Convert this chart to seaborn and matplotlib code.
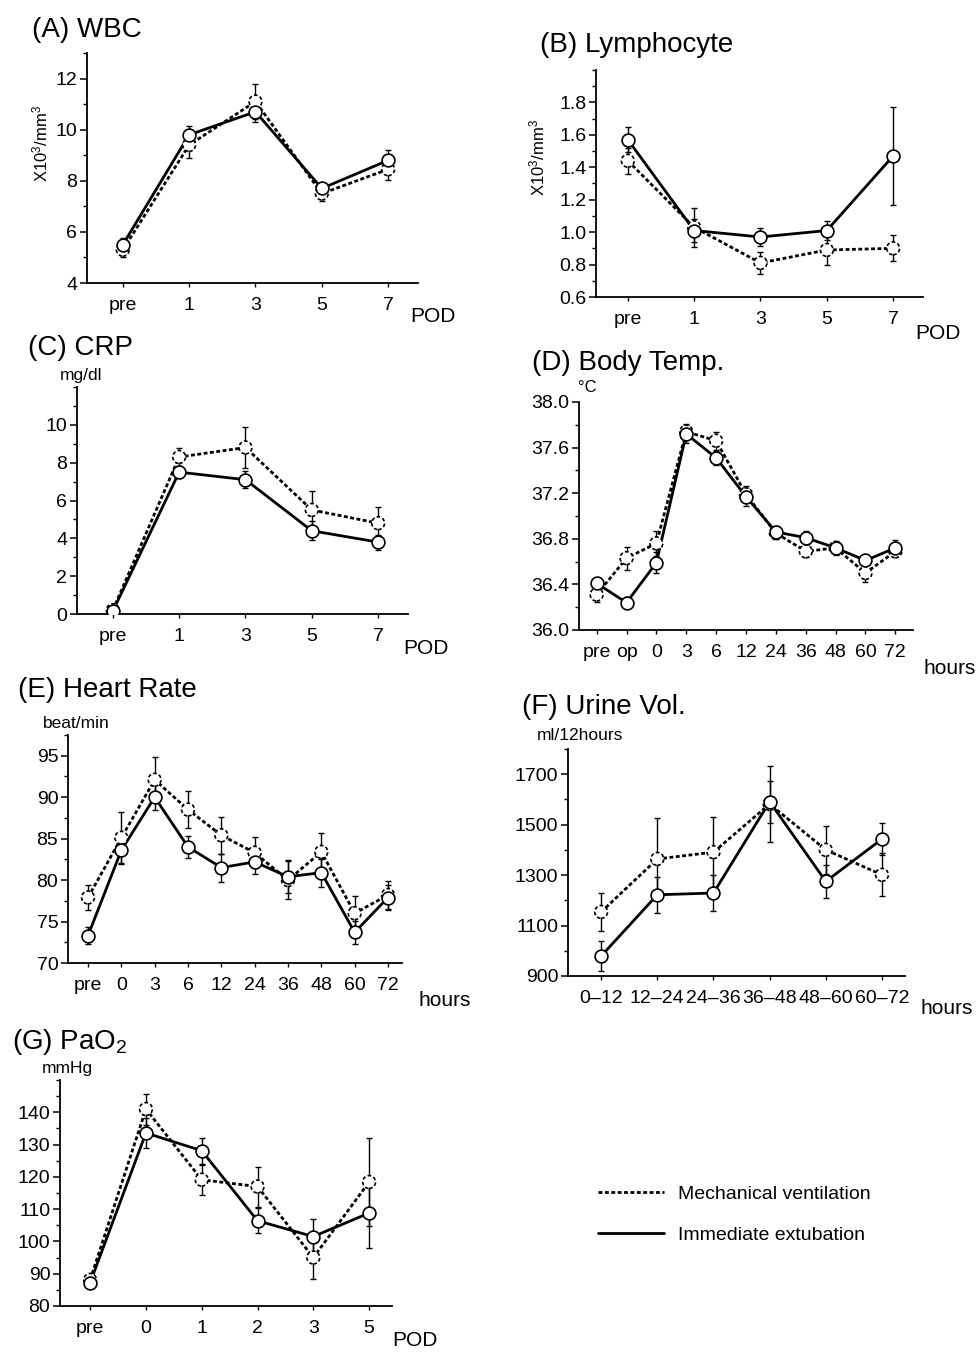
import numpy as np
import pandas as pd
import matplotlib
matplotlib.use("Agg")
from matplotlib import pyplot as plt
from matplotlib.lines import Line2D
from matplotlib.ticker import MultipleLocator, FormatStrFormatter
import seaborn as sns

# ---- data (MV = mechanical ventilation, IE = immediate extubation) ----
wbc_x = ["pre", "1", "3", "5", "7"]
wbc_mv = [5.3, 9.4, 11.1, 7.5, 8.45]
wbc_mv_err = [0.3, 0.5, 0.7, 0.3, 0.4]
wbc_ie = [5.5, 9.8, 10.7, 7.7, 8.8]
wbc_ie_err = [0.25, 0.35, 0.4, 0.15, 0.4]
wbc_ticks = [4, 6, 8, 10, 12]

lym_x = ["pre", "1", "3", "5", "7"]
lym_mv = [1.44, 1.03, 0.81, 0.89, 0.90]
lym_mv_err = [0.08, 0.12, 0.07, 0.09, 0.08]
lym_ie = [1.57, 1.01, 0.97, 1.01, 1.47]
lym_ie_err = [0.076, 0.07, 0.055, 0.06, 0.3]
lym_ticks = [0.6, 0.8, 1.0, 1.2, 1.4, 1.6, 1.8]

crp_x = ["pre", "1", "3", "5", "7"]
crp_mv = [0.2, 8.3, 8.8, 5.5, 4.8]
crp_mv_err = [0.1, 0.5, 1.1, 1.0, 0.85]
crp_ie = [0.15, 7.5, 7.1, 4.4, 3.8]
crp_ie_err = [0.1, 0.3, 0.45, 0.5, 0.4]
crp_ticks = [0, 2, 4, 6, 8, 10]

temp_x = ["pre", "op", "0", "3", "6", "12", "24", "36", "48", "60", "72"]
temp_mv = [36.31, 36.63, 36.76, 37.74, 37.66, 37.19, 36.85, 36.69, 36.72, 36.50, 36.69]
temp_mv_err = [0.06, 0.1, 0.11, 0.07, 0.08, 0.07, 0.05, 0.05, 0.06, 0.08, 0.05]
temp_ie = [36.41, 36.24, 36.59, 37.72, 37.51, 37.17, 36.86, 36.81, 36.72, 36.61, 36.72]
temp_ie_err = [0.05, 0.05, 0.09, 0.08, 0.06, 0.08, 0.05, 0.06, 0.05, 0.05, 0.07]
temp_ticks = [36.0, 36.4, 36.8, 37.2, 37.6, 38.0]

hr_x = ["pre", "0", "3", "6", "12", "24", "36", "48", "60", "72"]
hr_mv = [77.9, 85.1, 92.1, 88.5, 85.4, 83.3, 80.0, 83.4, 76.0, 78.2]
hr_mv_err = [1.5, 3.1, 2.7, 2.2, 2.2, 1.9, 2.3, 2.3, 2.1, 1.7]
hr_ie = [73.3, 83.6, 90.0, 84.0, 81.5, 82.2, 80.4, 80.9, 73.7, 77.9]
hr_ie_err = [1.0, 1.5, 1.5, 1.3, 1.7, 1.5, 2.0, 1.7, 1.4, 1.5]
hr_ticks = [70, 75, 80, 85, 90, 95]

urine_x = ["0–12", "12–24", "24–36", "36–48", "48–60", "60–72"]
urine_mv = [1154, 1364, 1391, 1582, 1400, 1301]
urine_mv_err = [76, 161, 138, 150, 96, 85]
urine_ie = [979, 1222, 1229, 1591, 1275, 1443]
urine_ie_err = [60, 72, 72, 83, 66, 64]
urine_ticks = [900, 1100, 1300, 1500, 1700]

pao2_x = ["pre", "0", "1", "2", "3", "5"]
pao2_mv = [88.1, 141.0, 119.1, 117.0, 95.0, 118.4]
pao2_mv_err = [1.5, 4.8, 4.7, 6.2, 6.7, 13.6]
pao2_ie = [87.2, 133.6, 128.1, 106.4, 101.5, 108.8]
pao2_ie_err = [1.5, 4.6, 4.0, 3.9, 5.5, 10.7]
pao2_ticks = [80, 90, 100, 110, 120, 130, 140]

MV = "Mechanical ventilation"
IE = "Immediate extubation"

sns.set_theme(style="ticks", rc={"axes.edgecolor": "black", "xtick.color": "black",
                                 "ytick.color": "black", "text.color": "black"})
plt.rcParams["font.family"] = ["Liberation Sans", "DejaVu Sans"]
plt.rcParams["mathtext.fontset"] = "custom"
plt.rcParams["mathtext.rm"] = "Liberation Sans"
plt.rcParams["mathtext.it"] = "Liberation Sans:italic"
plt.rcParams["mathtext.bf"] = "Liberation Sans:bold"

W, H = 980, 1352
fig = plt.figure(figsize=(W / 100, H / 100), dpi=100)


def box(l, t, r, b):
    return [l / W, 1 - b / H, (r - l) / W, (b - t) / H]


def ftext(x, y, s, **kw):
    fig.text(x / W, 1 - y / H, s, **kw)


def panel(rect, labels, mv, mv_err, ie, ie_err, xlim, ylim, yticks, minor, fmt=None):
    ax = fig.add_axes(box(*rect))
    pos = np.arange(len(labels))
    n = len(labels)
    df = pd.DataFrame({
        "pos": np.concatenate([pos, pos]),
        "value": list(mv) + list(ie),
        "err": list(mv_err) + list(ie_err),
        "group": [MV] * n + [IE] * n,
    })
    sns.lineplot(data=df, x="pos", y="value", style="group",
                 dashes={MV: (1.4, 0.9), IE: ""}, color="black", linewidth=2,
                 estimator=None, errorbar=None, sort=False, legend=False, ax=ax, zorder=2)
    for grp, ls in [(MV, (0, (2.2, 1.4))), (IE, "solid")]:
        sub = df[df["group"] == grp]
        ax.errorbar(sub["pos"], sub["value"], yerr=sub["err"], fmt="none", ecolor="black",
                    elinewidth=1, capsize=2.5, capthick=1, zorder=3)
        sns.scatterplot(data=sub, x="pos", y="value", marker="o", s=85, color="white",
                        edgecolor="black", linewidth=1.2, linestyle=ls, zorder=4,
                        legend=False, ax=ax)
    ax.set_xlim(*xlim)
    ax.set_ylim(*ylim)
    ax.set_xticks(pos)
    ax.set_xticklabels(labels)
    ax.set_yticks(yticks)
    ax.yaxis.set_minor_locator(MultipleLocator(minor))
    if fmt:
        ax.yaxis.set_major_formatter(FormatStrFormatter(fmt))
    ax.set_xlabel("")
    ax.set_ylabel("")
    sns.despine(ax=ax)
    for s in ["left", "bottom"]:
        ax.spines[s].set_linewidth(1.3)
    ax.tick_params(axis="y", which="major", direction="out", length=5, width=1.1,
                   labelsize=14, pad=2)
    ax.tick_params(axis="y", which="minor", direction="out", length=3, width=1)
    ax.tick_params(axis="x", direction="out", length=3, width=1, labelsize=14, pad=7)
    ax.patch.set_alpha(0)
    return ax


# (A) WBC
panel((87, 53, 418, 283), wbc_x, wbc_mv, wbc_mv_err, wbc_ie, wbc_ie_err,
      (-0.54, 4.45), (4, 13), wbc_ticks, 1)
ftext(32, 30, "(A) WBC", fontsize=20, va="center")
ftext(40, 143, "X10$^3$/mm$^3$", fontsize=12, rotation=90, ha="center", va="center")
ftext(410, 317, "POD", fontsize=15, va="center")

# (B) Lymphocyte
panel((596, 70, 923, 297), lym_x, lym_mv, lym_mv_err, lym_ie, lym_ie_err,
      (-0.48, 4.45), (0.6, 2.0), lym_ticks, 0.1, "%.1f")
ftext(540, 45, "(B) Lymphocyte", fontsize=20, va="center")
ftext(537, 157, "X10$^3$/mm$^3$", fontsize=12, rotation=90, ha="center", va="center")
ftext(915, 333, "POD", fontsize=15, va="center")

# (C) CRP
panel((77, 387, 408, 614), crp_x, crp_mv, crp_mv_err, crp_ie, crp_ie_err,
      (-0.54, 4.45), (0, 12), crp_ticks, 1)
ftext(28, 348, "(C) CRP", fontsize=20, va="center")
ftext(60, 375, "mg/dl", fontsize=12.5, va="center")
ftext(403, 649, "POD", fontsize=15, va="center")

# (D) Body Temp.
panel((579, 402, 913, 630), temp_x, temp_mv, temp_mv_err, temp_ie, temp_ie_err,
      (-0.59, 10.59), (36.0, 38.0), temp_ticks, 0.2, "%.1f")
ftext(532, 363, "(D) Body Temp.", fontsize=20, va="center")
ftext(578, 388, "°C", fontsize=12, va="center")
ftext(923, 668, "hours", fontsize=15, va="center")

# (E) Heart Rate
panel((68, 735, 402, 963), hr_x, hr_mv, hr_mv_err, hr_ie, hr_ie_err,
      (-0.6, 9.42), (70, 97.5), hr_ticks, 2.5)
ftext(18, 690, "(E) Heart Rate", fontsize=20, va="center")
ftext(43, 724, "beat/min", fontsize=12.5, va="center")
ftext(418, 1001, "hours", fontsize=15, va="center")

# (F) Urine Vol.
panel((568, 749, 905, 976), urine_x, urine_mv, urine_mv_err, urine_ie, urine_ie_err,
      (-0.59, 5.41), (900, 1800), urine_ticks, 100)
ftext(522, 707, "(F) Urine Vol.", fontsize=20, va="center")
ftext(537, 736, "ml/12hours", fontsize=12.5, va="center")
ftext(920, 1008, "hours", fontsize=15, va="center")

# (G) PaO2
panel((60, 1080, 392, 1306), pao2_x, pao2_mv, pao2_mv_err, pao2_ie, pao2_ie_err,
      (-0.54, 5.41), (80, 150), pao2_ticks, 5)
ftext(12, 1042, "(G) PaO$_2$", fontsize=20, va="center")
ftext(42, 1069, "mmHg", fontsize=12.5, va="center")
ftext(392, 1341, "POD", fontsize=15, va="center")

handles = [Line2D([], [], color="black", lw=2, dashes=(1.4, 0.9)),
           Line2D([], [], color="black", lw=2)]
fig.legend(handles, [MV, IE], loc="upper left", bbox_to_anchor=(598 / W, 1 - 1185 / H),
           frameon=False, fontsize=14, handlelength=3.4, handletextpad=0.7,
           labelspacing=1.2, borderpad=0, borderaxespad=0)

fig.savefig("out.png", dpi=100)
